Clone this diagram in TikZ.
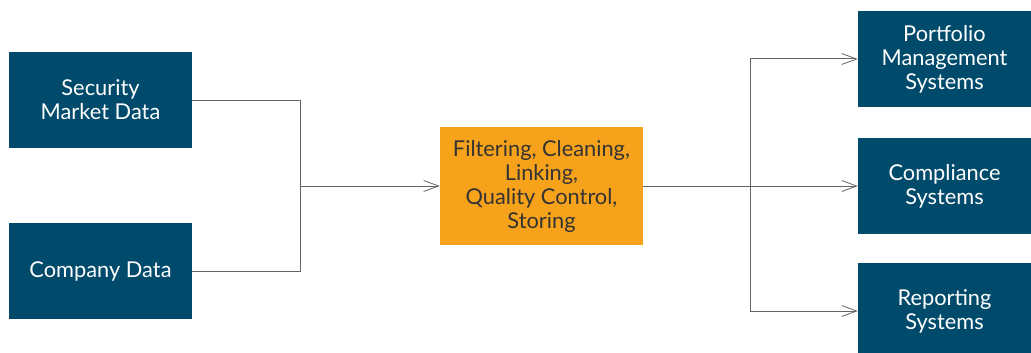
\documentclass[tikz,border=0pt]{standalone}
\usepackage{fontspec}
\setmainfont{Lato}
\usepackage{tikz}
\usetikzlibrary{arrows.meta,positioning}
\usepackage{xcolor}
\definecolor{dmblue}{RGB}{0,75,107}
\definecolor{dmorange}{RGB}{247,162,27}
\definecolor{dmgray}{RGB}{100,100,100}
\definecolor{dmtext}{RGB}{51,51,51}
\tikzstyle{arrow} = [line width=1pt,-{Straight Barb[length=15pt,width=11pt,line width=0.8pt]},color=dmgray]
\tikzstyle{wire} = [line width=1pt,color=dmgray]
\tikzstyle{source} = [rectangle, minimum width=183pt, minimum height=96pt, align=center, fill=dmblue, text=white, inner sep=0pt]
\tikzstyle{target} = [rectangle, minimum width=173pt, minimum height=96pt, align=center, fill=dmblue, text=white, inner sep=0pt]
\tikzstyle{process} = [rectangle, minimum width=203pt, minimum height=118pt, align=center, fill=dmorange, text=dmtext, inner sep=0pt]

\begin{document}
\begin{tikzpicture}[x=1pt, y=-1pt, font=\fontsize{21.8}{24}\selectfont]
\useasboundingbox (0,0) rectangle (1031,353);
% inputs
\node (secdata) [source] at (100.5,100) {Security\\Market Data};
\node (compdata) [source] at (100.5,271) {Company Data};
% processing step
\node (process) [process] at (541.5,186) {Filtering, Cleaning,\\Linking,\\Quality Control,\\Storing};
% outputs
\node (portfolio) [target] at (944.5,59) {Portfolio\\Management\\Systems};
\node (compliance) [target] at (944.5,186) {Compliance\\Systems};
\node (reporting) [target] at (944.5,311) {Reporting\\Systems};

\coordinate (joinin) at (300,186);
\coordinate (joinout) at (750,186);

\draw[wire] (secdata.east) -| (joinin);
\draw[wire] (compdata.east) -| (joinin);
\draw[arrow] (joinin) -- (process.west);
\draw[wire] (process.east) -- (joinout);
\draw[arrow] (joinout) |- (portfolio.west);
\draw[arrow] (joinout) -- (compliance.west);
\draw[arrow] (joinout) |- (reporting.west);
\end{tikzpicture}
\end{document}
